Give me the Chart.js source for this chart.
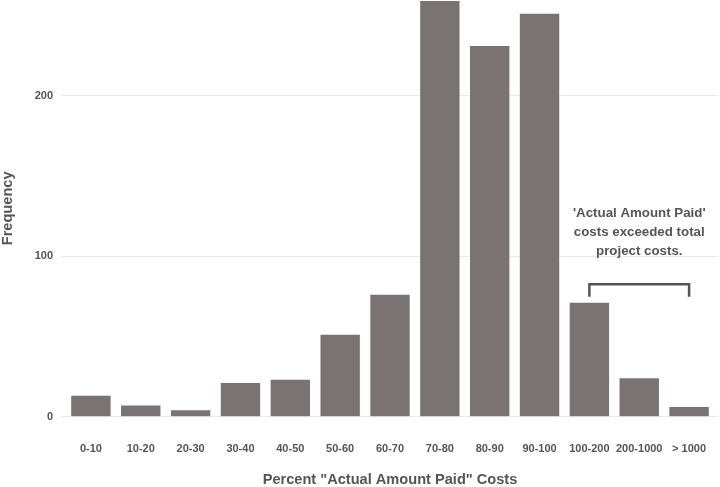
<!DOCTYPE html>
<html>
<head>
<meta charset="utf-8">
<script src="https://cdn.jsdelivr.net/npm/chart.js@4"></script>
<style>
  html, body { margin: 0; padding: 0; background: #fff; }
  #wrap { width: 720px; height: 487px; }
</style>
</head>
<body>
<div id="wrap"><canvas id="histChart"></canvas></div>
<script>
// bins and counts
const categories = ['0-10', '10-20', '20-30', '30-40', '40-50', '50-60', '60-70', '70-80', '80-90', '90-100', '100-200', '200-1000', '> 1000'];
const frequency = [13, 7, 4, 21, 23, 51, 76, 259, 231, 251, 71, 24, 6];
const yTicks = [0, 100, 200];
const noteLines = ["'Actual Amount Paid'", 'costs exceeded total', 'project costs.'];

const FONT = '"Liberation Sans", Arial, sans-serif';
const TEXT = '#555555';

// note + bracket over the last three bins
const bracketNote = {
    id: 'bracketNote',
    afterDatasetsDraw(chart) {
        const ctx = chart.ctx;
        const x = chart.scales.x;
        const y = chart.scales.y;
        const x0 = x.getPixelForValue(10);
        const x1 = x.getPixelForValue(12);
        const yTop = y.getPixelForValue(82.5);
        const yEnd = y.getPixelForValue(74.8);

        ctx.save();
        ctx.strokeStyle = '#555555';
        ctx.lineWidth = 2.5;
        ctx.lineCap = 'butt';
        ctx.beginPath();
        ctx.moveTo(x0, yEnd);
        ctx.lineTo(x0, yTop);
        ctx.lineTo(x1, yTop);
        ctx.lineTo(x1, yEnd);
        ctx.stroke();

        ctx.fillStyle = TEXT;
        ctx.font = 'bold 13.3px ' + FONT;
        ctx.textAlign = 'center';
        ctx.textBaseline = 'middle';
        const cx = x.getPixelForValue(11);
        const lineVals = [126.9, 115, 102.8];
        noteLines.forEach((t, i) => {
            ctx.fillText(t, cx, y.getPixelForValue(lineVals[i]));
        });
        ctx.restore();
    }
};

const ctx = document.getElementById('histChart').getContext('2d');
new Chart(ctx, {
    type: 'bar',
    data: {
        datasets: [{
            data: frequency.map((v, i) => ({ x: i, y: v })),
            backgroundColor: '#797473',
            borderWidth: 0,
            barPercentage: 0.79,
            categoryPercentage: 1.0
        }]
    },
    options: {
        responsive: true,
        maintainAspectRatio: false,
        animation: false,
        layout: { padding: { top: 0, right: 1, bottom: 0, left: 0 } },
        plugins: {
            legend: { display: false },
            tooltip: { enabled: false }
        },
        scales: {
            x: {
                type: 'linear',
                offset: false,
                min: -0.6,
                max: 12.6,
                afterBuildTicks: (scale) => {
                    scale.ticks = categories.map((c, i) => ({ value: i }));
                },
                afterFit: (scale) => {
                    scale.height = 70.3;
                    scale.paddingLeft = 0;
                    scale.paddingRight = 0;
                },
                grid: { display: false, drawTicks: false },
                border: { display: false },
                ticks: {
                    padding: 26,
                    color: TEXT,
                    font: { family: FONT, size: 11, weight: 'bold' },
                    maxRotation: 0,
                    autoSkip: false,
                    callback: (v) => categories[v] ?? ''
                },
                title: {
                    display: true,
                    text: 'Percent "Actual Amount Paid" Costs',
                    color: TEXT,
                    font: { family: FONT, size: 14.6, weight: 'bold', lineHeight: 1.0 },
                    padding: { top: 0, bottom: 0 }
                }
            },
            y: {
                min: 0,
                max: 259.6,
                afterBuildTicks: (scale) => {
                    scale.ticks = yTicks.map(v => ({ value: v }));
                },
                afterFit: (scale) => {
                    scale.width = 61;
                    scale.paddingTop = 0;
                    scale.paddingBottom = 0;
                },
                grid: { color: '#ebebeb', lineWidth: 1, drawTicks: false },
                border: { display: false },
                ticks: {
                    padding: 8,
                    color: TEXT,
                    font: { family: FONT, size: 11, weight: 'bold' }
                },
                title: {
                    display: true,
                    text: 'Frequency',
                    color: TEXT,
                    font: { family: FONT, size: 14.6, weight: 'bold', lineHeight: 1.0 },
                    padding: { top: 1, bottom: 0 }
                }
            }
        }
    },
    plugins: [bracketNote]
});
</script>
</body>
</html>
